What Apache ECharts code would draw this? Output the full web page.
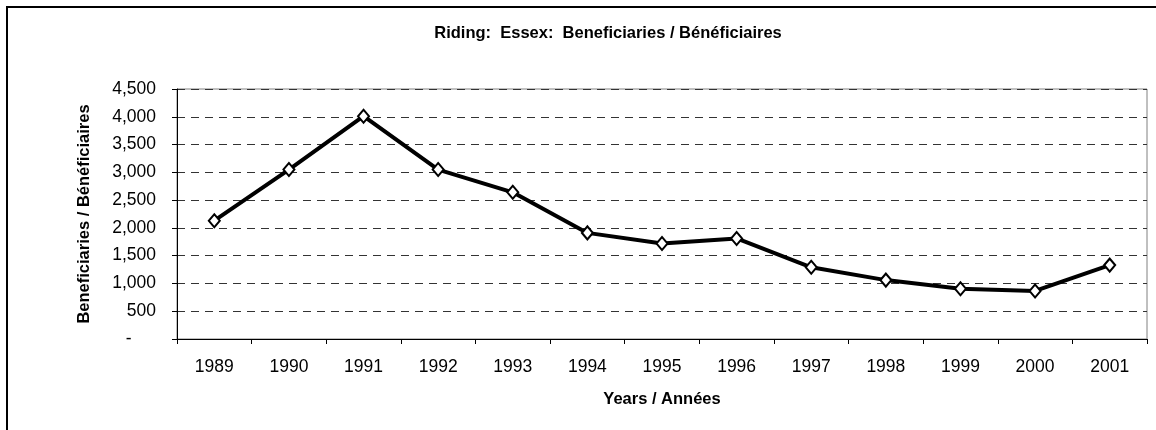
<!DOCTYPE html>
<html>
<head>
<meta charset="utf-8">
<title>Riding: Essex: Beneficiaries</title>
<script src="https://cdn.jsdelivr.net/npm/echarts@6/dist/echarts.min.js"></script>
<style>
  html, body { margin: 0; padding: 0; background: #fff; }
  #main { width: 1156px; height: 430px; }
</style>
</head>
<body>
<div id="main"></div>
<script>
// years on the x axis
const years = ['1989', '1990', '1991', '1992', '1993', '1994', '1995',
  '1996', '1997', '1998', '1999', '2000', '2001'];
// beneficiaries per year
const beneficiaries = [2130, 3050, 4010, 3050, 2640, 1910, 1720,
  1810, 1290, 1060, 905, 865, 1330];

const font = '"Liberation Sans", Arial, sans-serif';

const chart = echarts.init(document.getElementById('main'));
chart.setOption({
  animation: false,
  backgroundColor: '#fff',
  title: {
    text: 'Riding:  Essex:  Beneficiaries / Bénéficiaires',
    left: 603,
    textAlign: 'center',
    top: 20,
    textStyle: { fontFamily: font, fontWeight: 'bold', fontSize: 16.5, color: '#000' }
  },
  // outer chart frame (only top and left edges fall inside the picture)
  graphic: [{
    type: 'rect',
    shape: { x: 7, y: 7, width: 1400, height: 700 },
    style: { fill: 'none', stroke: '#000', lineWidth: 2 },
    silent: true
  }],
  grid: {
    left: 177, top: 89, right: 9, bottom: 91,
    show: true, borderColor: '#808080', borderWidth: 1
  },
  xAxis: {
    type: 'category',
    data: years,
    boundaryGap: true,
    name: 'Years / Années',
    nameLocation: 'middle',
    nameGap: 52,
    nameTextStyle: { fontFamily: font, fontWeight: 'bold', fontSize: 16.5, color: '#000' },
    axisLine: { lineStyle: { color: '#000', width: 1 } },
    axisTick: { show: true, length: 5, lineStyle: { color: '#000' } },
    axisLabel: { margin: 19, fontFamily: font, fontSize: 17.5, color: '#000' }
  },
  yAxis: {
    type: 'value',
    min: 0, max: 4500, interval: 500,
    name: 'Beneficiaries / Bénéficiaires',
    nameLocation: 'middle',
    nameRotate: 90,
    nameGap: 84,
    nameTextStyle: { fontFamily: font, fontWeight: 'bold', fontSize: 16.5, color: '#000' },
    axisLine: { show: true, lineStyle: { color: '#000', width: 1 } },
    axisTick: { show: true, length: 5, lineStyle: { color: '#000' } },
    axisLabel: {
      margin: 21, fontFamily: font, fontSize: 17.5, color: '#000',
      formatter: function (v) {
        return v === 0 ? '-     ' : v.toLocaleString('en-US');
      }
    },
    splitLine: { lineStyle: { color: '#333', type: [8, 6], width: 1 } }
  },
  series: [{
    type: 'line',
    data: beneficiaries,
    lineStyle: { color: '#000', width: 4 },
    symbol: 'diamond',
    symbolSize: [11, 13],
    itemStyle: { color: '#fff', borderColor: '#000', borderWidth: 2 }
  }]
});
</script>
</body>
</html>
